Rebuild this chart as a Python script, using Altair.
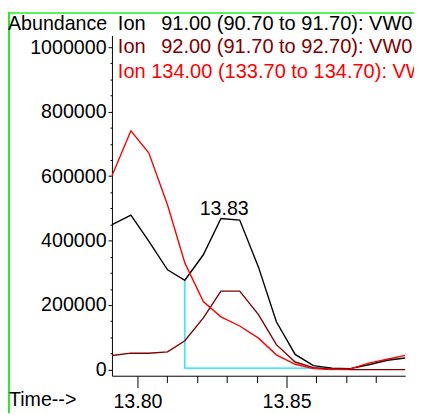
import altair as alt
import pandas as pd

# ---- data ----
times = [13.7915, 13.7978, 13.8038, 13.8101, 13.8159, 13.8221, 13.8280, 13.8343,
         13.8406, 13.8466, 13.8529, 13.8590, 13.8652, 13.8714, 13.8776, 13.8838, 13.8898]
ion91 = [449600, 479100, 398800, 309600, 277000, 356100, 468800, 463900,
         317800, 148200, 46900, 12000, 4300, 3000, 15000, 29000, 36000]
ion92 = [43800, 50800, 50800, 54800, 89500, 160400, 243500, 243500,
         170500, 77300, 23400, 6100, 1000, 0, 0, 0, 0]
ion134 = [601800, 740900, 672700, 510500, 330900, 211300, 163500, 135200,
          97400, 45700, 16400, 3000, 0, 2000, 20000, 32000, 44000]

series_names = ["Ion 91.00", "Ion 92.00", "Ion 134.00"]
series_colors = ["#000000", "#800000", "#ff0000"]
legend_lines = [
    "Ion\u2002 91.00 (90.70 to 91.70): VW01.D\\data.ms",
    "Ion\u2002 92.00 (91.70 to 92.70): VW01.D\\data.ms",
    "Ion 134.00 (133.70 to 134.70): VW01.D\\data.ms",
]
y_title = "Abundance"
x_title = "Time-->"

x_major = [13.80, 13.85]
x_minor = [13.81, 13.82, 13.83, 13.84, 13.86, 13.87, 13.88]
y_major = [0, 200000, 400000, 600000, 800000, 1000000]
y_minor = [50000, 100000, 150000, 250000, 300000, 350000, 450000, 500000, 550000,
           650000, 700000, 750000, 850000, 900000, 950000]

baseline_t = [13.8159, 13.8159, 13.8652]
baseline_v = [277000, 4300, 4300]

apex_label = "13.83"
apex_t = 13.8291
apex_v = 468800

# ---- layout / style ----
FONT = "Liberation Sans"
FS = 20
FS_LEG = 20.4
W, H = 299, 347
xs = alt.Scale(domain=[13.79145, 13.8898], nice=False, zero=False)
ys = alt.Scale(domain=[-19170, 1036500], nice=False, zero=False)

ax_x_major = alt.Axis(values=x_major, format=".2f", orient="bottom", tickSize=12,
                      tickColor="black", domainColor="black", labelFont=FONT,
                      labelFontSize=FS, labelColor="black", labelPadding=4, title=None,
                      grid=False, labelFlush=False, labelOverlap=False, domainWidth=1,
                      tickWidth=1)
ax_x_minor = alt.Axis(values=x_minor, orient="bottom", tickSize=7, labels=False,
                      domain=False, title=None, grid=False, tickColor="black", tickWidth=1)
ax_y_major = alt.Axis(values=y_major, format="d", orient="left", tickSize=4,
                      tickColor="black", domainColor="black", labelFont=FONT,
                      labelFontSize=FS, labelColor="black", labelPadding=2, title=None,
                      grid=False, labelFlush=False, labelOverlap=False, domainWidth=1,
                      tickWidth=1)
ax_y_minor = alt.Axis(values=y_minor, orient="left", tickSize=2, labels=False,
                      domain=False, title=None, grid=False, tickColor="black", tickWidth=1)

df = pd.DataFrame({"t": times, "v91": ion91, "v92": ion92, "v134": ion134})
base_df = pd.DataFrame({"t": baseline_t, "v": baseline_v, "o": [0, 1, 2]})
one = pd.DataFrame({"k": [0]})

frame = alt.Chart(one).mark_rule(color="#22ee22", strokeWidth=2).encode(
    x=alt.value(-105), y=alt.value(-24), y2=alt.value(400))
frame_top = alt.Chart(one).mark_rule(color="#22ee22", strokeWidth=1.5).encode(
    x=alt.value(-106), x2=alt.value(320), y=alt.value(-23))

cyan = alt.Chart(base_df).mark_line(color="#00e5ff", strokeWidth=1.3).encode(
    x=alt.X("t:Q", scale=xs, axis=None),
    y=alt.Y("v:Q", scale=ys, axis=None),
    order="o:Q")

axes_major = alt.Chart(df).mark_point(opacity=0).encode(
    x=alt.X("t:Q", scale=xs, axis=ax_x_major),
    y=alt.Y("v91:Q", scale=ys, axis=ax_y_major))
axes_minor = alt.Chart(df).mark_point(opacity=0).encode(
    x=alt.X("t:Q", scale=xs, axis=ax_x_minor),
    y=alt.Y("v91:Q", scale=ys, axis=ax_y_minor))

def series(col, color):
    return alt.Chart(df).mark_line(color=color, strokeWidth=1.4).encode(
        x=alt.X("t:Q", scale=xs, axis=None),
        y=alt.Y(f"{col}:Q", scale=ys, axis=None))

l91 = series("v91", series_colors[0])
l92 = series("v92", series_colors[1])
l134 = series("v134", series_colors[2])

apex = alt.Chart(pd.DataFrame({"t": [apex_t], "v": [apex_v], "s": [apex_label]})).mark_text(
    font=FONT, fontSize=FS, color="black", align="center", baseline="alphabetic", dy=-4
).encode(x=alt.X("t:Q", scale=xs, axis=None), y=alt.Y("v:Q", scale=ys, axis=None), text="s:N")

def label(txt, px, py, color, size=FS, align="left"):
    return alt.Chart(pd.DataFrame({"s": [txt]})).mark_text(
        font=FONT, fontSize=size, color=color, align=align, baseline="alphabetic"
    ).encode(x=alt.value(px), y=alt.value(py), text="s:N")

texts = [
    label(y_title, -106, -6, "black"),
    label(legend_lines[0], 6, -6, series_colors[0], FS_LEG),
    label(legend_lines[1], 6, 18, series_colors[1], FS_LEG),
    label(legend_lines[2], 6, 43, series_colors[2], FS_LEG),
    label(x_title, -105, 378, "black"),
]

chart = alt.layer(frame, frame_top, axes_major, axes_minor, cyan, l91, l92, l134, apex, *texts).resolve_axis(
    x="independent", y="independent"
).properties(
    width=W, height=H,
    autosize=alt.AutoSizeParams(type="none"),
    padding={"left": 106, "top": 24, "right": 9, "bottom": 34},
    background="white",
).configure_view(stroke=None)

chart.save("out.html", embed_options={"renderer": "svg", "actions": False})
